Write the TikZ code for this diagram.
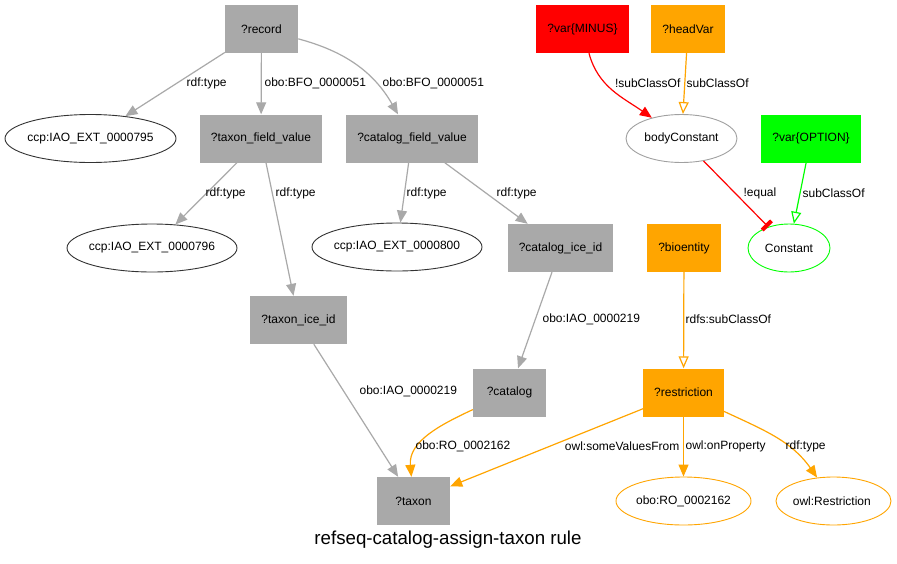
\documentclass[tikz,border=0pt]{standalone}
\usepackage{fontspec}
\setmainfont{Liberation Sans}
\usetikzlibrary{shapes.geometric, arrows.meta, positioning, calc}
\definecolor{nodegray}{RGB}{169,169,169}
\definecolor{edgegray}{RGB}{169,169,169}
\definecolor{rulered}{RGB}{255,0,0}
\definecolor{ruleorange}{RGB}{255,165,0}
\definecolor{rulegreen}{RGB}{0,255,0}
\definecolor{outline}{RGB}{51,51,51}
\definecolor{softgray}{RGB}{160,160,160}

\begin{document}
\begin{tikzpicture}[x=1pt, y=-1pt,
  box/.style={rectangle, fill=#1, minimum width=73pt, minimum height=48pt, inner xsep=11pt, font=\fontsize{12}{14}\selectfont},
  oval/.style={ellipse, draw=#1, line width=0.9pt, minimum height=48pt, inner sep=0pt, font=\fontsize{12}{14}\selectfont},
  link/.style={draw=#1, line width=1.2pt, -{Triangle[length=12pt, width=10pt]}},
  sublink/.style={draw=#1, line width=1.2pt, -{Triangle[open, length=12pt, width=10pt]}},
  elabel/.style={anchor=west, inner sep=0pt, font=\fontsize{12}{14}\selectfont}]
  \useasboundingbox (0,0) rectangle (897,563);
  \fill[white] (0,0) rectangle (897,563);
  \foreach \n/\x/\y/\c/\t in {
    record/261.5/29/nodegray/{?record},
    tfv/261/138.5/nodegray/{?taxon\_field\_value},
    cfv/412/138.5/nodegray/{?catalog\_field\_value},
    cid/560.5/248/nodegray/{?catalog\_ice\_id},
    tice/298.5/320/nodegray/{?taxon\_ice\_id},
    catalog/509.5/392.5/nodegray/{?catalog},
    taxon/413.5/501/nodegray/{?taxon},
    minus/582.5/29/rulered/{?var\{MINUS\}},
    headvar/688/29/ruleorange/{?headVar},
    option/811/138.5/rulegreen/{?var\{OPTION\}},
    bioentity/684/248/ruleorange/{?bioentity},
    restriction/683.5/392.5/ruleorange/{?restriction}
  } {
    \node[box=\c] (\n) at (\x,\y) {\t};
  }
  \foreach \n/\x/\y/\w/\c/\t in {
    e795/90.5/138.5/171/outline/{ccp:IAO\_EXT\_0000795},
    e796/152/248/170/outline/{ccp:IAO\_EXT\_0000796},
    e800/397/247/170/outline/{ccp:IAO\_EXT\_0000800},
    bodyconst/681.5/138.5/111/softgray/{bodyConstant},
    constant/789/248/82/rulegreen/{Constant},
    oboro/683.5/501/135/ruleorange/{obo:RO\_0002162},
    owlrestr/833.5/501/115/ruleorange/{owl:Restriction}
  } {
    \node[oval=\c, minimum width=\w pt] (\n) at (\x,\y) {\makebox[0pt]{\t}};
  }
  \foreach \a/\b/\lx/\ly/\t in {
    record/e795/186/83/{rdf:type},
    record/tfv/264/83/{obo:BFO\_0000051},
    tfv/e796/205/193/{rdf:type},
    tfv/tice/275/193/{rdf:type},
    cfv/e800/406/193/{rdf:type},
    cfv/cid/496/193/{rdf:type},
    cid/catalog/542/319/{obo:IAO\_0000219},
    tice/taxon/359/391/{obo:IAO\_0000219}
  } {
    \draw[link=edgegray] (\a) -- (\b) node[elabel, at={(\lx,\ly)}] {\t};
  }
  \draw[link=edgegray] (record) to[out=-15, in=120] (cfv) node[elabel, at={(382,83)}] {obo:BFO\_0000051};
  \draw[link=ruleorange] (catalog) to[out=205, in=95] (taxon) node[elabel, at={(415,446)}] {obo:RO\_0002162};
  \draw[link=ruleorange] (restriction) -- (taxon) node[elabel, anchor=east, at={(680,446)}] {owl:someValuesFrom};
  \draw[link=ruleorange] (restriction) -- (oboro) node[elabel, at={(685,446)}] {owl:onProperty};
  \draw[link=ruleorange] (restriction) to[out=-25, in=125] (owlrestr) node[elabel, at={(785,446)}] {rdf:type};
  \draw[sublink=ruleorange] (bioentity) -- (restriction) node[elabel, at={(685,319)}] {rdfs:subClassOf};
  \draw[sublink=ruleorange] (headvar) -- (bodyconst) node[elabel, at={(686,83)}] {subClassOf};
  \draw[link=rulered] (minus) to[out=-75, in=145] (bodyconst) node[elabel, anchor=east, at={(681,83)}] {!subClassOf};
  \draw[draw=rulered, line width=1.2pt, -{Rectangle[length=4pt, width=13pt]}] (bodyconst) -- (constant) node[elabel, at={(743,193)}] {!equal};
  \draw[sublink=rulegreen] (option) -- (constant) node[elabel, at={(802,193)}] {subClassOf};
  \node[font=\fontsize{18.7}{22}\selectfont] (title) at (448,540) {refseq-catalog-assign-taxon rule};
\end{tikzpicture}
\end{document}
